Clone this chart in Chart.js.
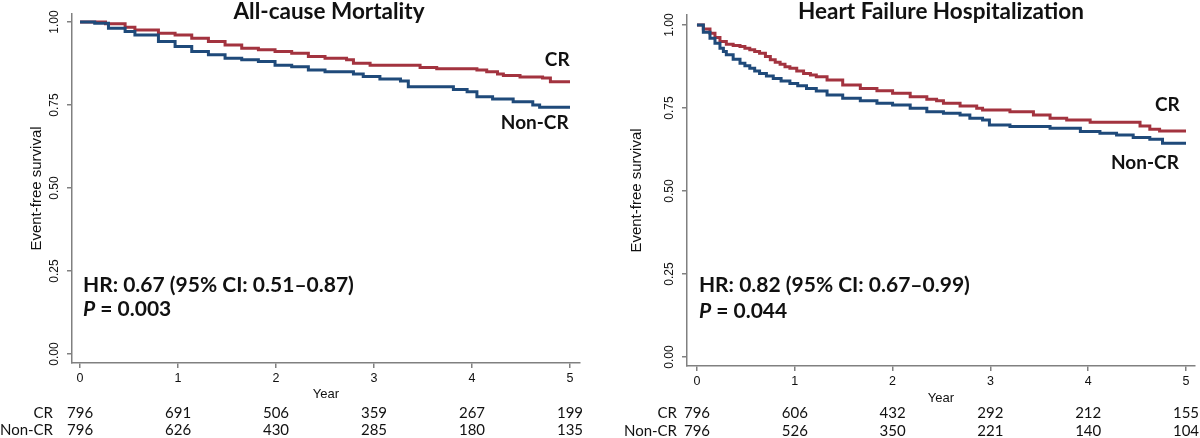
<!DOCTYPE html>
<html>
<head>
<meta charset="utf-8">
<script src="https://cdn.jsdelivr.net/npm/chart.js@4.4.0/dist/chart.umd.min.js"></script>
<style>
  body { margin: 0; background: #fff; width: 1200px; height: 438px; overflow: hidden; position: relative; }
  .panel { position: absolute; top: 0; width: 600px; height: 438px; }
</style>
</head>
<body>
<div class="panel" style="left:0"><canvas id="mortality" width="600" height="438"></canvas></div>
<div class="panel" style="left:600px"><canvas id="hfh" width="600" height="438"></canvas></div>
<script>
var yearTicks = [0, 1, 2, 3, 4, 5];
var survivalTicks = [0, 0.25, 0.5, 0.75, 1];
var groups = ['CR', 'Non-CR'];

// All-cause mortality
var mortCrYears = [0, 0.26, 0.46, 0.56, 0.80, 0.97, 1.14, 1.31, 1.48, 1.65, 1.82, 1.99, 2.16, 2.33, 2.50, 2.72, 2.79, 2.96, 3.47, 3.64, 4.05, 4.15, 4.26, 4.32, 4.49, 4.72, 4.80, 5.0];
var mortCrSurv  = [1.0, 0.995, 0.984, 0.976, 0.966, 0.961, 0.951, 0.941, 0.931, 0.921, 0.916, 0.911, 0.906, 0.896, 0.891, 0.886, 0.876, 0.870, 0.863, 0.859, 0.855, 0.850, 0.843, 0.839, 0.834, 0.831, 0.820, 0.820];
var mortNonYears = [0, 0.15, 0.29, 0.46, 0.56, 0.80, 0.97, 1.14, 1.31, 1.48, 1.65, 1.82, 1.99, 2.16, 2.33, 2.50, 2.79, 2.89, 3.06, 3.27, 3.35, 3.81, 3.95, 4.05, 4.21, 4.42, 4.62, 4.69, 5.0];
var mortNonSurv  = [1.0, 0.996, 0.981, 0.971, 0.961, 0.941, 0.926, 0.911, 0.901, 0.891, 0.886, 0.881, 0.870, 0.865, 0.855, 0.850, 0.843, 0.836, 0.828, 0.822, 0.805, 0.797, 0.790, 0.775, 0.768, 0.760, 0.750, 0.743, 0.743];
var mortRiskCr  = [796, 691, 506, 359, 267, 199];
var mortRiskNon = [796, 626, 430, 285, 180, 135];

// Heart failure hospitalization
var hfhCrYears = [0, 0.065, 0.133, 0.184, 0.235, 0.30, 0.37, 0.44, 0.49, 0.54, 0.59, 0.64, 0.70, 0.75, 0.80, 0.85, 0.90, 0.95, 1.02, 1.09, 1.16, 1.22, 1.33, 1.49, 1.67, 1.84, 2.00, 2.18, 2.35, 2.45, 2.52, 2.69, 2.86, 2.92, 3.20, 3.44, 3.61, 3.78, 4.02, 4.53, 4.63, 4.73, 5.0];
var hfhCrSurv  = [1.0, 0.988, 0.975, 0.962, 0.950, 0.942, 0.938, 0.935, 0.930, 0.925, 0.920, 0.915, 0.905, 0.895, 0.888, 0.882, 0.874, 0.870, 0.861, 0.854, 0.849, 0.844, 0.834, 0.819, 0.809, 0.802, 0.794, 0.784, 0.776, 0.772, 0.764, 0.756, 0.749, 0.744, 0.739, 0.729, 0.719, 0.714, 0.707, 0.696, 0.686, 0.681, 0.681];
var hfhNonYears = [0, 0.065, 0.133, 0.184, 0.235, 0.27, 0.30, 0.37, 0.44, 0.49, 0.54, 0.59, 0.64, 0.71, 0.78, 0.86, 0.95, 1.03, 1.12, 1.22, 1.33, 1.49, 1.67, 1.84, 2.00, 2.18, 2.35, 2.52, 2.69, 2.79, 2.92, 2.99, 3.20, 3.61, 3.92, 4.12, 4.29, 4.46, 4.63, 4.76, 5.0];
var hfhNonSurv  = [1.0, 0.978, 0.960, 0.945, 0.930, 0.920, 0.910, 0.897, 0.885, 0.877, 0.870, 0.861, 0.854, 0.846, 0.839, 0.831, 0.824, 0.817, 0.809, 0.801, 0.789, 0.779, 0.772, 0.764, 0.759, 0.749, 0.739, 0.734, 0.729, 0.719, 0.714, 0.699, 0.694, 0.689, 0.679, 0.674, 0.669, 0.661, 0.656, 0.644, 0.644];
var hfhRiskCr  = [796, 606, 432, 292, 212, 155];
var hfhRiskNon = [796, 526, 350, 221, 140, 104];

var red = '#a3333f';
var blue = '#1f4a7a';
var axisGrey = '#808080';
var ink = '#111';

function pts(xs, ys) {
  return xs.map(function(x, i) { return {x: x, y: ys[i]}; });
}

var panelText = {
  id: 'panelText',
  afterDraw: function(chart, args, o) {
    var ctx = chart.ctx, sx = chart.scales.x, sy = chart.scales.y, area = chart.chartArea;
    ctx.save();
    ctx.fillStyle = ink;
    ctx.textBaseline = 'middle';

    ctx.font = 'bold 22.5px Lato';
    ctx.textAlign = 'center';
    ctx.fillText(o.title, (area.left + area.right) / 2 + o.titleShift, 12);

    ctx.font = 'bold 19px Lato';
    ctx.fillText('CR', sx.getPixelForValue(o.crAt[0]), sy.getPixelForValue(o.crAt[1]));
    ctx.fillText('Non-CR', sx.getPixelForValue(o.nonAt[0]), sy.getPixelForValue(o.nonAt[1]));

    ctx.textAlign = 'left';
    ctx.font = 'bold 21px Lato';
    var hx = sx.getPixelForValue(o.hrAt[0]);
    ctx.fillText(o.hr, hx, sy.getPixelForValue(o.hrAt[1]));
    var py = sy.getPixelForValue(o.hrAt[2]);
    ctx.font = 'italic bold 21px Lato';
    ctx.fillText('P', hx, py);
    var pw = ctx.measureText('P').width;
    ctx.font = 'bold 21px Lato';
    ctx.fillText(' = ' + o.p, hx + pw, py);

    // numbers at risk
    ctx.font = '15px Lato';
    var rows = [o.riskCr, o.riskNon];
    rows.forEach(function(row, r) {
      var y = o.riskY[r];
      ctx.textAlign = 'right';
      ctx.fillText(groups[r], o.riskLabelX, y);
      ctx.textAlign = 'center';
      row.forEach(function(n, i) {
        ctx.fillText(String(n), sx.getPixelForValue(yearTicks[i]), y);
      });
    });
    ctx.restore();
  }
};

function makeChart(id, cfg) {
  return new Chart(document.getElementById(id), {
    type: 'line',
    data: {
      datasets: [
        { label: 'Non-CR', data: pts(cfg.nonX, cfg.nonY), borderColor: blue, borderWidth: 3, pointRadius: 0, stepped: true, fill: false },
        { label: 'CR', data: pts(cfg.crX, cfg.crY), borderColor: red, borderWidth: 3, pointRadius: 0, stepped: true, fill: false }
      ]
    },
    options: {
      responsive: false,
      animation: false,
      layout: { padding: { left: 10, right: cfg.padRight, top: cfg.top, bottom: 438 - cfg.scaleBottom } },
      plugins: {
        legend: { display: false },
        tooltip: { enabled: false },
        panelText: cfg.text
      },
      scales: {
        x: {
          type: 'linear',
          min: cfg.xMin, max: cfg.xMax,
          afterBuildTicks: function(s) { s.ticks = yearTicks.map(function(v) { return {value: v}; }); },
          afterFit: function(s) { s.height = cfg.scaleBottom - cfg.bottom; },
          ticks: { font: { family: 'Liberation Sans', size: 12.5 }, color: '#111', padding: 3, maxRotation: 0 },
          grid: { display: true, drawOnChartArea: false, drawTicks: true, tickLength: 5, color: axisGrey, lineWidth: 1.5 },
          border: { display: true, color: axisGrey, width: 1.5 },
          title: { display: true, text: 'Year', font: { family: 'Liberation Sans', size: 13 }, color: '#111', padding: { top: 0, bottom: 0 } }
        },
        y: {
          min: cfg.yMin, max: cfg.yMax,
          afterBuildTicks: function(s) { s.ticks = survivalTicks.map(function(v) { return {value: v}; }); },
          afterFit: function(s) { s.width = cfg.left - 10; },
          ticks: {
            font: { family: 'Liberation Sans', size: 12 }, color: '#111',
            minRotation: 90, maxRotation: 90, crossAlign: 'center', padding: 1,
            callback: function(v) { return v.toFixed(2); }
          },
          grid: { display: true, drawOnChartArea: false, drawTicks: true, tickLength: 5, color: axisGrey, lineWidth: 1.5 },
          border: { display: true, color: axisGrey, width: 1.5 },
          title: { display: true, text: 'Event-free survival', font: { family: 'Liberation Sans', size: 15 }, color: '#111', padding: { top: 18, bottom: 0 } }
        }
      }
    },
    plugins: [panelText]
  });
}

makeChart('mortality', {
  crX: mortCrYears, crY: mortCrSurv, nonX: mortNonYears, nonY: mortNonSurv,
  left: 72, padRight: 20, top: 14, bottom: 363, scaleBottom: 402,
  xMin: -0.082, xMax: 5.102, yMin: -0.027, yMax: 1.024,
  text: {
    title: 'All-cause Mortality', titleShift: 3,
    crAt: [4.87, 0.886], nonAt: [4.64, 0.696],
    hr: 'HR: 0.67 (95% CI: 0.51\u20130.87)', p: '0.003', hrAt: [0.03, 0.208, 0.136],
    riskCr: mortRiskCr, riskNon: mortRiskNon, riskY: [413, 430], riskLabelX: 53
  }
});

makeChart('hfh', {
  crX: hfhCrYears, crY: hfhCrSurv, nonX: hfhNonYears, nonY: hfhNonSurv,
  left: 87, padRight: 5, top: 15, bottom: 366, scaleBottom: 406,
  xMin: -0.102, xMax: 5.092, yMin: -0.027, yMax: 1.030,
  text: {
    title: 'Heart Failure Hospitalization', titleShift: 0,
    crAt: [4.81, 0.759], nonAt: [4.58, 0.584],
    hr: 'HR: 0.82 (95% CI: 0.67\u20130.99)', p: '0.044', hrAt: [0.02, 0.217, 0.139],
    riskCr: hfhRiskCr, riskNon: hfhRiskNon, riskY: [413, 431], riskLabelX: 77
  }
});
</script>
</body>
</html>
